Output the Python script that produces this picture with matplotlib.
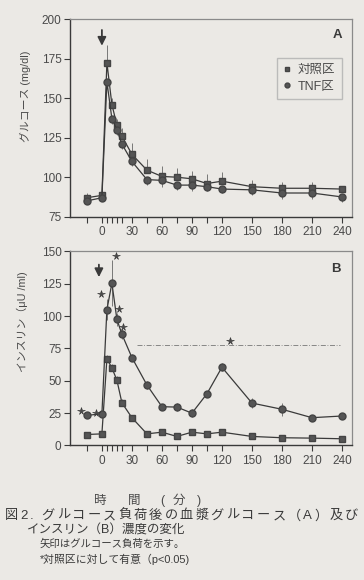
import numpy as np
import matplotlib
matplotlib.use("Agg")
import matplotlib.pyplot as plt

plt.rcParams['font.family'] = ['Liberation Sans', 'Noto Sans CJK JP', 'DejaVu Sans']

# ---------------- data ----------------
times = [-15, 0, 5, 10, 15, 20, 30, 45, 60, 75, 90, 105, 120, 150, 180, 210, 240]
xtick_labels = [0, 30, 60, 90, 120, 150, 180, 210, 240]

glu_ctrl = [87, 88.5, 172.5, 146, 133, 126, 114.5, 104.5, 100.5, 100, 99, 96, 97.5, 94, 93, 93, 92.5]
glu_ctrl_err = [3, 3, 11.5, 4, 4, 5, 7, 7, 6.5, 6, 5, 6, 5.5, 4, 4, 4, 2]
glu_tnf = [85, 87, 160.5, 137, 130, 121, 110, 98.5, 98, 95, 95, 94, 92.5, 92, 90, 90, 87.5]
glu_tnf_err = [2, 2, 3, 3, 3, 3, 3, 3.5, 4, 3, 4, 3, 2.5, 3, 4, 4, 3]

ins_ctrl = [8.5, 9, 67, 60, 50.5, 33, 21.5, 9, 10.3, 7, 10.3, 9, 10.3, 7, 6, 5.7, 5.2]
ins_ctrl_err = [1, 1, 3, 3, 3, 3, 2, 1, 1, 1, 1, 1, 1, 1, 1, 1, 1]
ins_tnf = [23.3, 24.5, 105, 125.5, 97.5, 86, 68, 46.8, 30, 29.7, 25, 40, 60.5, 32.8, 28, 21.5, 22.8]
ins_tnf_err = [2, 2, 8, 18, 5, 4, 3, 3, 2, 3, 3, 2, 3, 4, 5, 2, 2]

legend_labels = ['対照区', 'TNF区']
sig_times = [-15, 0, 5, 10, 15, 20]
sig_range = [35, 238]
sig_range_y = 78

# ---------------- style ----------------
bg = '#ebe9e5'
ink = '#3a3a3a'
tcol = '#4a4a4a'

fig = plt.figure(figsize=(3.64, 5.80), dpi=100, facecolor=bg)

def setup(ax, ylim, yticks):
    ax.set_facecolor(bg)
    ax.set_xlim(-32, 250)
    ax.set_ylim(*ylim)
    ax.set_yticks(yticks)
    ax.set_xticks(times)
    ax.set_xticklabels([str(t) if t in xtick_labels else '' for t in times])
    ax.tick_params(axis='both', direction='out', length=4, width=0.8, color=ink,
                   labelsize=8.5, labelcolor=tcol, pad=2)
    ax.tick_params(axis='x', pad=3)
    for s in ['left', 'bottom']:
        ax.spines[s].set_color(ink)
        ax.spines[s].set_linewidth(1.0)
    for s in ['top', 'right']:
        ax.spines[s].set_color('#8a8a8a')
        ax.spines[s].set_linewidth(0.9)

# ---- Panel A ----
axA = fig.add_axes([0.192, 0.6264, 0.775, 0.3403])
setup(axA, (75, 200), [75, 100, 125, 150, 175, 200])
axA.errorbar(times, glu_ctrl, yerr=[np.zeros(len(times)), glu_ctrl_err], fmt='none',
             ecolor='#666666', elinewidth=0.6, capsize=0)
axA.errorbar(times, glu_tnf, yerr=[glu_tnf_err, np.zeros(len(times))], fmt='none',
             ecolor='#666666', elinewidth=0.6, capsize=0)
axA.plot(times, glu_ctrl, '-s', color=ink, mfc='#555555', mec='#444444', ms=5, lw=0.9,
         label=legend_labels[0])
axA.plot(times, glu_tnf, '-o', color=ink, mfc='#555555', mec='#444444', ms=5, lw=0.9,
         label=legend_labels[1])
axA.annotate('', xy=(0, 181.5), xytext=(0, 195),
             arrowprops=dict(arrowstyle='-|>,head_length=0.5,head_width=0.25', color=ink, lw=1.3))
axA.text(0.965, 0.92, 'A', transform=axA.transAxes, ha='right', va='center',
         fontsize=9.5, fontweight='bold', color=ink)
leg = axA.legend(loc='upper right', bbox_to_anchor=(0.985, 0.835), fontsize=9, frameon=True,
                 fancybox=False, edgecolor='#b0b0b0', facecolor=bg, handlelength=0.6,
                 handletextpad=0.6, borderpad=0.5, labelspacing=0.35, markerscale=0.7)
for t in leg.get_texts():
    t.set_color(tcol)
for h in leg.get_lines():
    h.set_linestyle('none')

# ---- Panel B ----
axB = fig.add_axes([0.192, 0.2319, 0.775, 0.3345])
setup(axB, (0, 150), [0, 25, 50, 75, 100, 125, 150])
axB.errorbar(times, ins_ctrl, yerr=[np.zeros(len(times)), ins_ctrl_err], fmt='none',
             ecolor='#666666', elinewidth=0.6, capsize=0)
axB.errorbar(times, ins_tnf, yerr=ins_tnf_err, fmt='none',
             ecolor='#666666', elinewidth=0.6, capsize=0)
axB.plot(times, ins_ctrl, '-s', color=ink, mfc='#555555', mec='#444444', ms=5, lw=0.9)
axB.plot(times, ins_tnf, '-o', color=ink, mfc='#555555', mec='#444444', ms=5, lw=0.9)
axB.annotate('', xy=(-3, 128), xytext=(-3, 142),
             arrowprops=dict(arrowstyle='-|>,head_length=0.5,head_width=0.25', color=ink, lw=1.3))
axB.text(0.96, 0.91, 'B', transform=axB.transAxes, ha='right', va='center',
         fontsize=9.5, fontweight='bold', color=ink)

# significance stars (offsets are layout only)
star_dx = [-6, -6, -6, 4, 2, 1]
star_dy = [3, 1, 12, 0, 8, 6]
sx, sy = [], []
for t, dx, dy in zip(sig_times, star_dx, star_dy):
    i = times.index(t)
    y = ins_tnf[i] + dy
    if t == 10:
        y = ins_tnf[i] + ins_tnf_err[i] + 3
    sx.append(t + dx)
    sy.append(y)
sx.append(np.mean(sig_range) - 8)
sy.append(sig_range_y + 2.5)
axB.plot(sx, sy, ls='none', marker='*', ms=5.5, mfc='#4a4a4a', mec='#333333', mew=0.4)
axB.plot(sig_range, [sig_range_y, sig_range_y], ls=(0, (6, 2, 1, 2)), color='#777777', lw=0.6)

# ---- labels ----
fig.text(25 / 364, 1 - 96 / 580, 'グルコース (mg/dl)', rotation=90, ha='center', va='center',
         fontsize=7.8, color=tcol)
fig.text(22 / 364, 1 - 322 / 580, 'インスリン（μU /ml)', rotation=90, ha='center', va='center',
         fontsize=7.8, color=tcol)

for s, xc in zip(['時', '間', '(', '分', ')'], [100, 134, 162, 179, 199]):
    fig.text(xc / 364, 1 - 501 / 580, s, ha='center', va='center', fontsize=9, color=tcol)


def justified(text, x0, x1, y, size):
    """Draw text with inter-character spacing so it spans x0..x1 (pixels)."""
    r = fig.canvas.get_renderer()
    widths = []
    for ch in text:
        tt = fig.text(0, 0, ch, fontsize=size)
        widths.append(tt.get_window_extent(r).width)
        tt.remove()
    extra = ((x1 - x0) - sum(widths)) / (len(text) - 1)
    x = x0
    for ch, w in zip(text, widths):
        fig.text(x / 364, 1 - y / 580, ch, ha='left', va='center', fontsize=size, color=ink)
        x += w + extra


justified('図2. グルコース負荷後の血漿グルコース（A）及び', 5, 358, 516, 9.5)
fig.text(27 / 364, 1 - 531 / 580, 'インスリン（B）濃度の変化',
         ha='left', va='center', fontsize=9, color=ink)
fig.text(40 / 364, 1 - 544 / 580, '矢印はグルコース負荷を示す。',
         ha='left', va='center', fontsize=7.5, color=ink)
fig.text(40 / 364, 1 - 559 / 580, '*対照区に対して有意（p<0.05)',
         ha='left', va='center', fontsize=7.8, color=ink)

fig.savefig('out.png', dpi=100, facecolor=bg)
